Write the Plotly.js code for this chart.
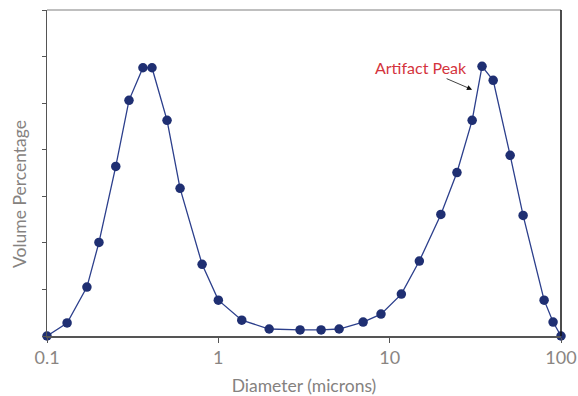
<!DOCTYPE html>
<html>
<head>
<meta charset="utf-8">
<script src="https://cdn.plot.ly/plotly-3.0.1.min.js"></script>
<style>html,body{margin:0;padding:0;background:#fff;}#chart{width:578px;height:396px;}</style>
</head>
<body>
<div id="chart"></div>
<script>
// Diameter (microns) and volume percentage
const diameter = [0.1, 0.131, 0.171, 0.201, 0.252, 0.301, 0.363, 0.41, 0.502, 0.598, 0.804, 1.0,
  1.37, 1.98, 3.0, 3.98, 5.07, 7.0, 8.9, 11.7, 14.9, 19.9, 24.7, 30.3, 34.6, 40.2, 50.5, 60.1, 79.7, 89.9, 100];
const volume = [0, 0.28, 1.05, 2.01, 3.64, 5.06, 5.76, 5.76, 4.63, 3.17, 1.54, 0.77,
  0.34, 0.15, 0.13, 0.13, 0.15, 0.30, 0.47, 0.90, 1.61, 2.61, 3.51, 4.63, 5.79, 5.49, 3.88, 2.59, 0.77, 0.30, 0];
const xTickVals = [0.1, 1, 10, 100];
const xTickText = ["0.1", "1", "10", "100"];
const xTitle = "Diameter (microns)";
const yTitle = "Volume Percentage";
const annotationText = "Artifact Peak";
const annotationX = 30.3;
const annotationY = 5.29;

const trace = {
  x: diameter, y: volume, type: 'scatter', mode: 'lines+markers',
  line: {color: '#2c3f8c', width: 1.3},
  marker: {color: '#1f2f72', size: 9.5},
  cliponaxis: false, hoverinfo: 'none'
};

const layout = {
  width: 578, height: 396,
  margin: {l: 47, r: 17, t: 10, b: 60},
  paper_bgcolor: '#fff', plot_bgcolor: '#fff',
  showlegend: false,
  font: {family: 'Lato, "Open Sans", sans-serif', color: '#8a8582'},
  xaxis: {
    type: 'log', range: [-1, 2],
    tickvals: xTickVals, ticktext: xTickText,
    ticks: 'outside', ticklen: 5, tickcolor: '#555', tickwidth: 1,
    showline: true, linecolor: '#555', linewidth: 1.5,
    showgrid: false, zeroline: false,
    tickfont: {size: 18, color: '#8a8582'},
    title: {text: xTitle, font: {size: 17.5, color: '#858280'}, standoff: 14}
  },
  yaxis: {
    range: [0, 7], dtick: 1, tick0: 0,
    showticklabels: false,
    ticks: 'outside', ticklen: 4, tickcolor: '#555', tickwidth: 1,
    showline: true, linecolor: '#555', linewidth: 1.5,
    showgrid: false, zeroline: false
  },
  shapes: [
    {type: 'line', xref: 'paper', yref: 'paper', x0: 0, x1: 1, y0: 1, y1: 1, line: {color: '#aaaaaa', width: 1.5}},
    {type: 'line', xref: 'paper', yref: 'paper', x0: 1, x1: 1, y0: 0, y1: 1, line: {color: '#111111', width: 1.5}}
  ],
  annotations: [{
    x: Math.log10(annotationX), y: annotationY, xref: 'x', yref: 'y',
    text: annotationText, showarrow: true,
    arrowhead: 2, arrowsize: 1.3, arrowwidth: 0.8, arrowcolor: '#111',
    axref: 'pixel', ayref: 'pixel', ax: -51, ay: -22,
    font: {size: 16, color: '#d4343d'}
  }, {
    xref: 'paper', yref: 'paper', x: -27 / 514, y: 0.4356,
    xanchor: 'center', yanchor: 'middle', textangle: -90,
    text: yTitle, showarrow: false,
    font: {size: 17.5, color: '#858280'}
  }]
};

Plotly.newPlot('chart', [trace], layout, {staticPlot: true, displayModeBar: false});
</script>
</body>
</html>
